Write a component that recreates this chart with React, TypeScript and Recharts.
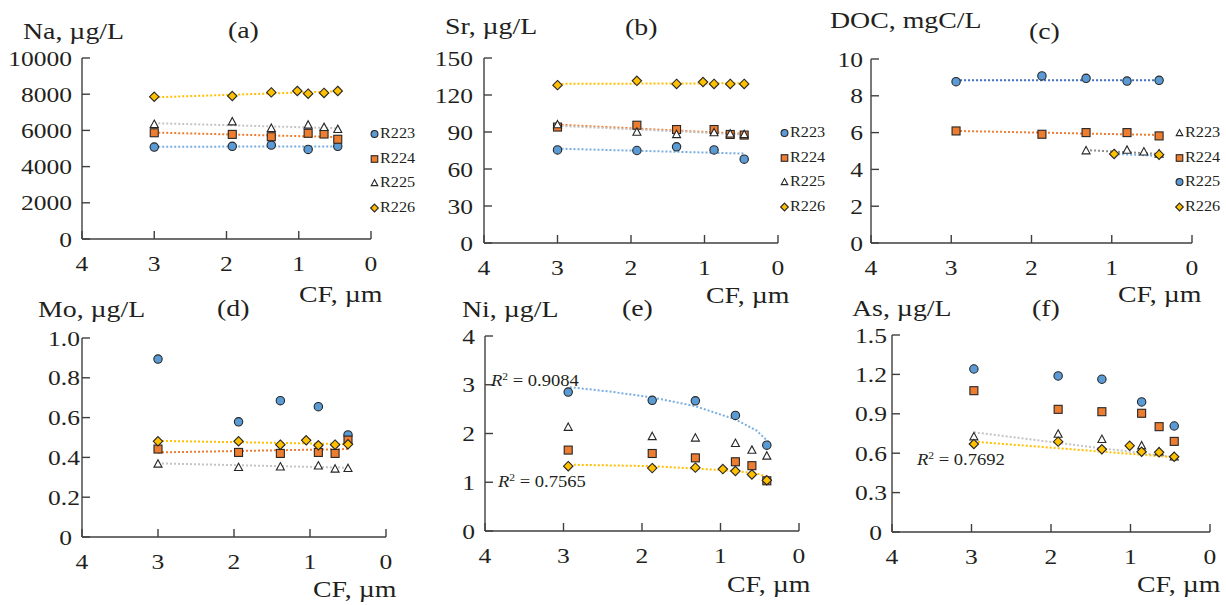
import React from "react";
import { Legend, Scatter, ScatterChart, XAxis, YAxis } from "recharts";

const FONT = '"Liberation Serif", "Times New Roman", Times, serif';
const INK = "#231f20";
const AXIS = "#3f3f3f";
const SX = 1.16; // the scan is a little stretched sideways, text too

const BLUE = "#5b9bd5";
const ORANGE = "#ed7d31";
const GOLD = "#ffc000";

// CF positions (µm) as they sit in each panel
const cfAB = [3.0, 1.92, 1.38, 1.02, 0.87, 0.65, 0.46];
const cfCE = [2.94, 1.87, 1.32, 0.97, 0.81, 0.6, 0.41];
const cfD = [3.0, 1.94, 1.39, 1.05, 0.89, 0.67, 0.5];
const cfF = [2.97, 1.91, 1.36, 1.01, 0.86, 0.64, 0.45];
const cfTicks = [0, 1, 2, 3, 4];

// (a) Na, µg/L
const naTicks = [0, 2000, 4000, 6000, 8000, 10000];
const naR223 = [5080, 5120, 5190, null, 4950, null, 5120];
const naR224 = [5870, 5780, 5650, null, 5840, 5800, 5510];
const naR225 = [6340, 6480, 6120, null, 6300, 6170, 6060];
const naR226 = [7860, 7900, 8100, 8180, 8030, 8070, 8180];
const naFit223 = [[3.0, 5100], [0.46, 5110]];
const naFit224 = [[3.0, 5880], [0.46, 5630]];
const naFit225 = [[3.0, 6400], [0.46, 6120]];
const naFit226 = [[3.0, 7830], [0.46, 8160]];

// (b) Sr, µg/L
const srTicks = [0, 30, 60, 90, 120, 150];
const srR223 = [75.5, 75, 78, null, 75.5, null, 68];
const srR224 = [94, 95.5, 92, null, 92, 88, 87.5];
const srR225 = [96, 90, 88, null, 89.5, 88.5, 88];
const srR226 = [128, 131.5, 129, 130.5, 129, 129, 129];
const srFit223 = [[3.0, 76.5], [0.46, 72.5]];
const srFit224 = [[3.0, 96], [0.46, 88.5]];
const srFit225 = [[3.0, 95], [0.46, 88]];
const srFit226 = [[3.0, 129], [0.46, 129.5]];

// (c) DOC, mgC/L  (legend here: R223 triangle, R225 circle)
const docTicks = [0, 2, 4, 6, 8, 10];
const docR223 = [null, null, 5.02, null, 5.05, 4.96, 4.84];
const docR224 = [6.09, 5.91, 6.0, null, 6.0, null, 5.82];
const docR225 = [8.77, 9.08, 8.95, null, 8.8, null, 8.84];
const docR226 = [null, null, null, 4.84, null, null, 4.8];
const docFit223 = [[1.32, 5.05], [0.41, 4.84]];
const docFit224 = [[2.94, 6.09], [0.41, 5.87]];
const docFit225 = [[2.94, 8.85], [0.41, 8.85]];
const docFit226 = [[0.97, 4.84], [0.41, 4.74]];

// (d) Mo, µg/L
const moTicks = [0, 0.2, 0.4, 0.6, 0.8, 1.0];
const moR223 = [0.894, 0.579, 0.685, null, 0.655, null, 0.513];
const moR224 = [0.442, 0.425, 0.42, null, 0.425, 0.42, 0.487];
const moR225 = [0.367, 0.35, 0.353, null, 0.358, 0.342, 0.345];
const moR226 = [0.481, 0.481, 0.464, 0.486, 0.461, 0.464, 0.466];
const moFit224 = [[3.0, 0.425], [0.5, 0.442]];
const moFit225 = [[3.0, 0.37], [0.5, 0.348]];
const moFit226 = [[3.0, 0.483], [0.5, 0.467]];

// (e) Ni, µg/L
const niTicks = [0, 1, 2, 3, 4];
const niR223 = [2.85, 2.68, 2.67, null, 2.37, null, 1.76];
const niR224 = [1.66, 1.59, 1.5, null, 1.42, 1.34, 1.03];
const niR225 = [2.13, 1.94, 1.91, null, 1.8, 1.66, 1.54];
const niR226 = [1.33, 1.29, 1.3, 1.27, 1.23, 1.16, 1.04];
const niFit223 = [[2.92, 2.95], [2.41, 2.86], [1.87, 2.74], [1.32, 2.56], [0.81, 2.29], [0.54, 2.06], [0.39, 1.83]];
const niFit226 = [[2.92, 1.36], [1.87, 1.33], [1.32, 1.28], [0.81, 1.23], [0.54, 1.18], [0.4, 1.11]];

// (f) As, µg/L
const asTicks = [0, 0.3, 0.6, 0.9, 1.2, 1.5];
const asR223 = [1.241, 1.188, 1.163, null, 0.99, null, 0.807];
const asR224 = [1.076, 0.934, 0.916, null, 0.904, 0.802, 0.69];
const asR225 = [0.726, 0.746, 0.706, null, 0.657, 0.611, 0.573];
const asR226 = [0.67, 0.688, 0.63, 0.657, 0.611, 0.607, 0.573];
const asFit225 = [[2.97, 0.759], [0.45, 0.569]];
const asFit226 = [[2.97, 0.688], [0.45, 0.569]];

type Mark = "circle" | "square" | "triangle" | "diamond";
type Series = {
  name: string;
  mark: Mark;
  xs: number[];
  ys: (number | null)[];
  fit?: number[][];
  fitColor?: string;
};

const LIGHT_BLUE = "#79aee0";
const GREY = "#c4c4c4";

const naSeries: Series[] = [
  { name: "R223", mark: "circle", xs: cfAB, ys: naR223, fit: naFit223, fitColor: LIGHT_BLUE },
  { name: "R224", mark: "square", xs: cfAB, ys: naR224, fit: naFit224, fitColor: ORANGE },
  { name: "R225", mark: "triangle", xs: cfAB, ys: naR225, fit: naFit225, fitColor: GREY },
  { name: "R226", mark: "diamond", xs: cfAB, ys: naR226, fit: naFit226, fitColor: GOLD },
];
const srSeries: Series[] = [
  { name: "R223", mark: "circle", xs: cfAB, ys: srR223, fit: srFit223, fitColor: LIGHT_BLUE },
  { name: "R224", mark: "square", xs: cfAB, ys: srR224, fit: srFit224, fitColor: ORANGE },
  { name: "R225", mark: "triangle", xs: cfAB, ys: srR225, fit: srFit225, fitColor: GREY },
  { name: "R226", mark: "diamond", xs: cfAB, ys: srR226, fit: srFit226, fitColor: GOLD },
];
const docSeries: Series[] = [
  { name: "R223", mark: "triangle", xs: cfCE, ys: docR223, fit: docFit223, fitColor: "#8c8c8c" },
  { name: "R224", mark: "square", xs: cfCE, ys: docR224, fit: docFit224, fitColor: ORANGE },
  { name: "R225", mark: "circle", xs: cfCE, ys: docR225, fit: docFit225, fitColor: "#3e6fc0" },
  { name: "R226", mark: "diamond", xs: cfCE, ys: docR226, fit: docFit226, fitColor: LIGHT_BLUE },
];
const moSeries: Series[] = [
  { name: "R223", mark: "circle", xs: cfD, ys: moR223 },
  { name: "R224", mark: "square", xs: cfD, ys: moR224, fit: moFit224, fitColor: ORANGE },
  { name: "R225", mark: "triangle", xs: cfD, ys: moR225, fit: moFit225, fitColor: GREY },
  { name: "R226", mark: "diamond", xs: cfD, ys: moR226, fit: moFit226, fitColor: GOLD },
];
const niSeries: Series[] = [
  { name: "R223", mark: "circle", xs: cfCE, ys: niR223, fit: niFit223, fitColor: LIGHT_BLUE },
  { name: "R224", mark: "square", xs: cfCE, ys: niR224 },
  { name: "R225", mark: "triangle", xs: cfCE, ys: niR225 },
  { name: "R226", mark: "diamond", xs: cfCE, ys: niR226, fit: niFit226, fitColor: GOLD },
];
const asSeries: Series[] = [
  { name: "R223", mark: "circle", xs: cfF, ys: asR223 },
  { name: "R224", mark: "square", xs: cfF, ys: asR224 },
  { name: "R225", mark: "triangle", xs: cfF, ys: asR225, fit: asFit225, fitColor: GREY },
  { name: "R226", mark: "diamond", xs: cfF, ys: asR226, fit: asFit226, fitColor: GOLD },
];

const toPoints = (xs: number[], ys: (number | null)[]) =>
  xs.flatMap((x, i) => (ys[i] == null ? [] : [{ x, y: ys[i] as number }]));

function Marker({ mark, cx, cy, k = 1 }: { mark: Mark; cx: number; cy: number; k?: number }) {
  const st = { stroke: "#262626", strokeWidth: 1.1 };
  if (mark === "circle") return <circle cx={cx} cy={cy} r={4.2 * k} fill={BLUE} {...st} />;
  if (mark === "square") {
    const h = 4 * k;
    return <rect x={cx - h} y={cy - h} width={2 * h} height={2 * h} fill={ORANGE} {...st} />;
  }
  if (mark === "triangle") {
    const h = 4 * k;
    return (
      <polygon
        points={`${cx},${cy - h * 1.05} ${cx + h},${cy + h * 0.8} ${cx - h},${cy + h * 0.8}`}
        fill="#fff"
        {...st}
      />
    );
  }
  const h = 4.7 * k;
  return (
    <polygon points={`${cx},${cy - h} ${cx + h},${cy} ${cx},${cy + h} ${cx - h},${cy}`} fill={GOLD} {...st} />
  );
}

function SText({ x, y, size, children, anchor = "start" }: any) {
  return (
    <text
      transform={`translate(${x},${y}) scale(${SX},1)`}
      fontSize={size}
      fontFamily={FONT}
      fill={INK}
      textAnchor={anchor}
    >
      {children}
    </text>
  );
}

function R2({ x, y, value }: { x: number; y: number; value: string }) {
  return (
    <SText x={x} y={y} size={16}>
      <tspan fontStyle="italic">R</tspan>
      <tspan dy={-6} fontSize={10}>
        2
      </tspan>
      <tspan dy={6}>{` = ${value}`}</tspan>
    </SText>
  );
}

const fmtInt = (v: number) => String(v);
const fmtDec = (v: number) => (v === 0 ? "0" : v.toFixed(1));

type PanelDef = {
  box: number[]; // left, top, width, height
  plot: number[]; // x at CF=4, x at CF=0, top, bottom
  domain: number[];
  ticks: number[];
  fmt: (v: number) => string;
  gap: number;
  decShift: number;
  series: Series[];
  legendAt?: number[];
};

const panels: PanelDef[] = [
  { box: [0, 0, 410, 300], plot: [82, 371, 58, 239], domain: [0, 10000], ticks: naTicks, fmt: fmtInt, gap: 10, decShift: 0, series: naSeries, legendAt: [370, 122] },
  { box: [410, 0, 410, 300], plot: [484, 778, 58, 243], domain: [0, 150], ticks: srTicks, fmt: fmtInt, gap: 11, decShift: 0, series: srSeries, legendAt: [370, 121] },
  { box: [820, 0, 406, 300], plot: [871, 1192, 59, 243], domain: [0, 10], ticks: docTicks, fmt: fmtInt, gap: 8, decShift: 0, series: docSeries, legendAt: [355, 121] },
  { box: [0, 300, 410, 305], plot: [82, 386, 338, 537], domain: [0, 1], ticks: moTicks, fmt: fmtDec, gap: 10, decShift: 8, series: moSeries },
  { box: [410, 300, 410, 305], plot: [485, 799, 336, 531], domain: [0, 4], ticks: niTicks, fmt: fmtInt, gap: 10, decShift: 0, series: niSeries },
  { box: [820, 300, 406, 305], plot: [892, 1210, 335, 532], domain: [0, 1.5], ticks: asTicks, fmt: fmtDec, gap: 10, decShift: 5, series: asSeries },
];

function LegendBox({ series }: { series: Series[] }) {
  return (
    <div style={{ fontFamily: FONT, fontSize: 14, color: INK }}>
      {series.map((s) => (
        <div key={s.name} style={{ height: 24.5, display: "flex", alignItems: "center" }}>
          <svg width={9} height={12} style={{ overflow: "visible" }}>
            <Marker mark={s.mark} cx={4.5} cy={6} k={0.82} />
          </svg>
          <span style={{ display: "inline-block", transform: `scaleX(${SX})`, transformOrigin: "left", marginLeft: 1 }}>
            {s.name}
          </span>
        </div>
      ))}
    </div>
  );
}

function Panel({ p }: { p: PanelDef }) {
  const [bl, bt, bw, bh] = p.box;
  const [x0, x1, y0, y1] = p.plot;
  const xTick = (t: any) => (
    <SText x={t.x} y={t.y + 15.5} size={22} anchor="middle">
      {t.payload.value}
    </SText>
  );
  const yTick = (t: any) => {
    const v = t.payload.value as number;
    const label = p.fmt(v);
    const dx = label.includes(".") ? p.decShift : 0;
    return (
      <SText x={t.x + dx} y={t.y + 7.5} size={22} anchor="end">
        {label}
      </SText>
    );
  };
  return (
    <div style={{ position: "absolute", left: bl, top: bt }}>
      <ScatterChart
        width={bw}
        height={bh}
        margin={{ top: y0 - bt, right: bl + bw - x1, bottom: 0, left: 0 }}
      >
        <XAxis
          type="number"
          dataKey="x"
          domain={[0, 4]}
          ticks={cfTicks}
          interval={0}
          reversed
          height={bt + bh - y1}
          tickSize={-8}
          tickMargin={24}
          axisLine={{ stroke: AXIS, strokeWidth: 1.4 }}
          tickLine={{ stroke: AXIS, strokeWidth: 1.4 }}
          tick={xTick}
        />
        <YAxis
          type="number"
          dataKey="y"
          domain={p.domain}
          ticks={p.ticks}
          interval={0}
          width={x0 - bl}
          tickSize={-8}
          tickMargin={8 + p.gap}
          axisLine={{ stroke: AXIS, strokeWidth: 1.4 }}
          tickLine={{ stroke: AXIS, strokeWidth: 1.4 }}
          tick={yTick}
        />
        {p.series
          .filter((s) => s.fit)
          .map((s) => (
            <Scatter
              key={`fit-${s.name}`}
              name={`fit-${s.name}`}
              data={(s.fit as number[][]).map(([x, y]) => ({ x, y }))}
              line={{ stroke: s.fitColor, strokeWidth: 2, strokeDasharray: "2 2" }}
              shape={() => <g />}
              legendType="none"
              isAnimationActive={false}
            />
          ))}
        {p.series.map((s) => (
          <Scatter
            key={s.name}
            name={s.name}
            data={toPoints(s.xs, s.ys)}
            shape={(m: any) => <Marker mark={s.mark} cx={m.cx} cy={m.cy} />}
            isAnimationActive={false}
          />
        ))}
        {p.legendAt && (
          <Legend
            layout="horizontal"
            align="center"
            verticalAlign="middle"
            wrapperStyle={{ left: p.legendAt[0], top: p.legendAt[1], width: 60 }}
            content={() => <LegendBox series={p.series} />}
          />
        )}
      </ScatterChart>
    </div>
  );
}

export default function App() {
  return (
    <div style={{ position: "relative", width: 1226, height: 605, background: "#fff", overflow: "hidden" }}>
      <style>{"body{margin:0}"}</style>
      {panels.map((p, i) => (
        <Panel key={i} p={p} />
      ))}
      <svg width={1226} height={605} style={{ position: "absolute", left: 0, top: 0, pointerEvents: "none" }}>
        <SText x={23} y={39} size={24}>Na, µg/L</SText>
        <SText x={228} y={38} size={24}>(a)</SText>
        <SText x={299} y={302} size={24}>CF, µm</SText>

        <SText x={445} y={34} size={24}>Sr, µg/L</SText>
        <SText x={625} y={35} size={24}>(b)</SText>
        <SText x={706} y={303} size={24}>CF, µm</SText>

        <SText x={830} y={28} size={24}>DOC, mgC/L</SText>
        <SText x={1029} y={39} size={24}>(c)</SText>
        <SText x={1118} y={302} size={24}>CF, µm</SText>

        <SText x={38} y={317} size={24}>Mo, µg/L</SText>
        <SText x={217} y={316} size={24}>(d)</SText>
        <SText x={313} y={597} size={24}>CF, µm</SText>

        <SText x={462} y={317} size={24}>Ni, µg/L</SText>
        <SText x={622} y={316} size={24}>(e)</SText>
        <SText x={727} y={592} size={24}>CF, µm</SText>
        <R2 x={491} y={386} value="0.9084" />
        <R2 x={498} y={487} value="0.7565" />

        <SText x={852} y={316} size={24}>As, µg/L</SText>
        <SText x={1032} y={316} size={24}>(f)</SText>
        <SText x={1137} y={592} size={24}>CF, µm</SText>
        <R2 x={917} y={465} value="0.7692" />
      </svg>
    </div>
  );
}
